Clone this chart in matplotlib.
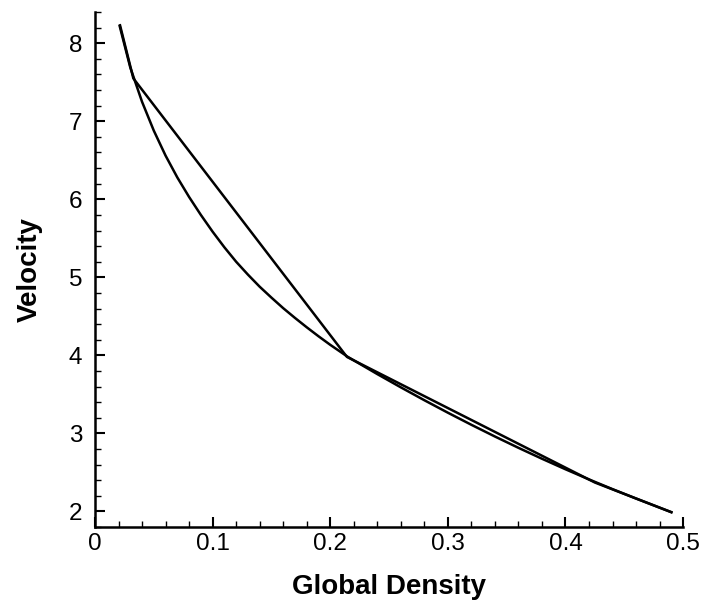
import matplotlib
matplotlib.use('Agg')
import matplotlib.pyplot as plt
from matplotlib.ticker import MultipleLocator

# smooth curve
curve_density = [0.021, 0.03, 0.04, 0.05, 0.06, 0.07, 0.08, 0.09, 0.10, 0.11,
                 0.12, 0.13, 0.14, 0.15, 0.16, 0.17, 0.18, 0.19, 0.20, 0.215,
                 0.24, 0.26, 0.28, 0.30, 0.32, 0.34, 0.36, 0.38, 0.40, 0.42,
                 0.44, 0.46, 0.49]
curve_velocity = [8.22, 7.69, 7.25, 6.88, 6.56, 6.28, 6.03, 5.80, 5.585, 5.385,
                  5.20, 5.035, 4.88, 4.74, 4.605, 4.48, 4.36, 4.245, 4.135, 3.98,
                  3.76, 3.59, 3.425, 3.265, 3.11, 2.96, 2.815, 2.675, 2.54, 2.41,
                  2.285, 2.165, 1.99]

# piecewise linear approximation
linear_density = [0.0213, 0.0326, 0.2142, 0.425, 0.49]
linear_velocity = [8.23, 7.55, 3.98, 2.37, 1.99]

x_ticks = [0, 0.1, 0.2, 0.3, 0.4, 0.5]
x_tick_labels = ['0', '0.1', '0.2', '0.3', '0.4', '0.5']
y_ticks = [2, 3, 4, 5, 6, 7, 8]

font = ['Liberation Sans', 'DejaVu Sans']

fig = plt.figure(figsize=(7.01, 6.08), dpi=100)
ax = fig.add_axes([0.1355, 0.1332, 0.839, 0.847])

ax.plot(curve_density, curve_velocity, color='black', lw=1.8)
ax.plot(linear_density, linear_velocity, color='black', lw=1.8)

ax.set_xlim(0, 0.5)
ax.set_ylim(1.8, 8.4)

for side in ['top', 'right']:
    ax.spines[side].set_visible(False)
for side in ['left', 'bottom']:
    ax.spines[side].set_linewidth(1.8)

ax.set_xticks(x_ticks)
ax.set_xticklabels(x_tick_labels)
ax.set_yticks(y_ticks)
ax.xaxis.set_minor_locator(MultipleLocator(0.02))
ax.yaxis.set_minor_locator(MultipleLocator(0.2))

ax.tick_params(which='both', direction='in', width=1.5)
ax.tick_params(which='major', length=7)
ax.tick_params(which='minor', length=4, width=1.0)
ax.tick_params(axis='x', pad=4)
ax.tick_params(axis='y', pad=9)

for lab in ax.get_xticklabels() + ax.get_yticklabels():
    lab.set_family(font)
    lab.set_fontsize(17.5)

ax.set_xlabel('Global Density', family=font, fontsize=20, fontweight='bold',
              labelpad=14)
ax.set_ylabel('Velocity', family=font, fontsize=20, fontweight='bold',
              labelpad=19)

fig.savefig('out.png', dpi=100)
